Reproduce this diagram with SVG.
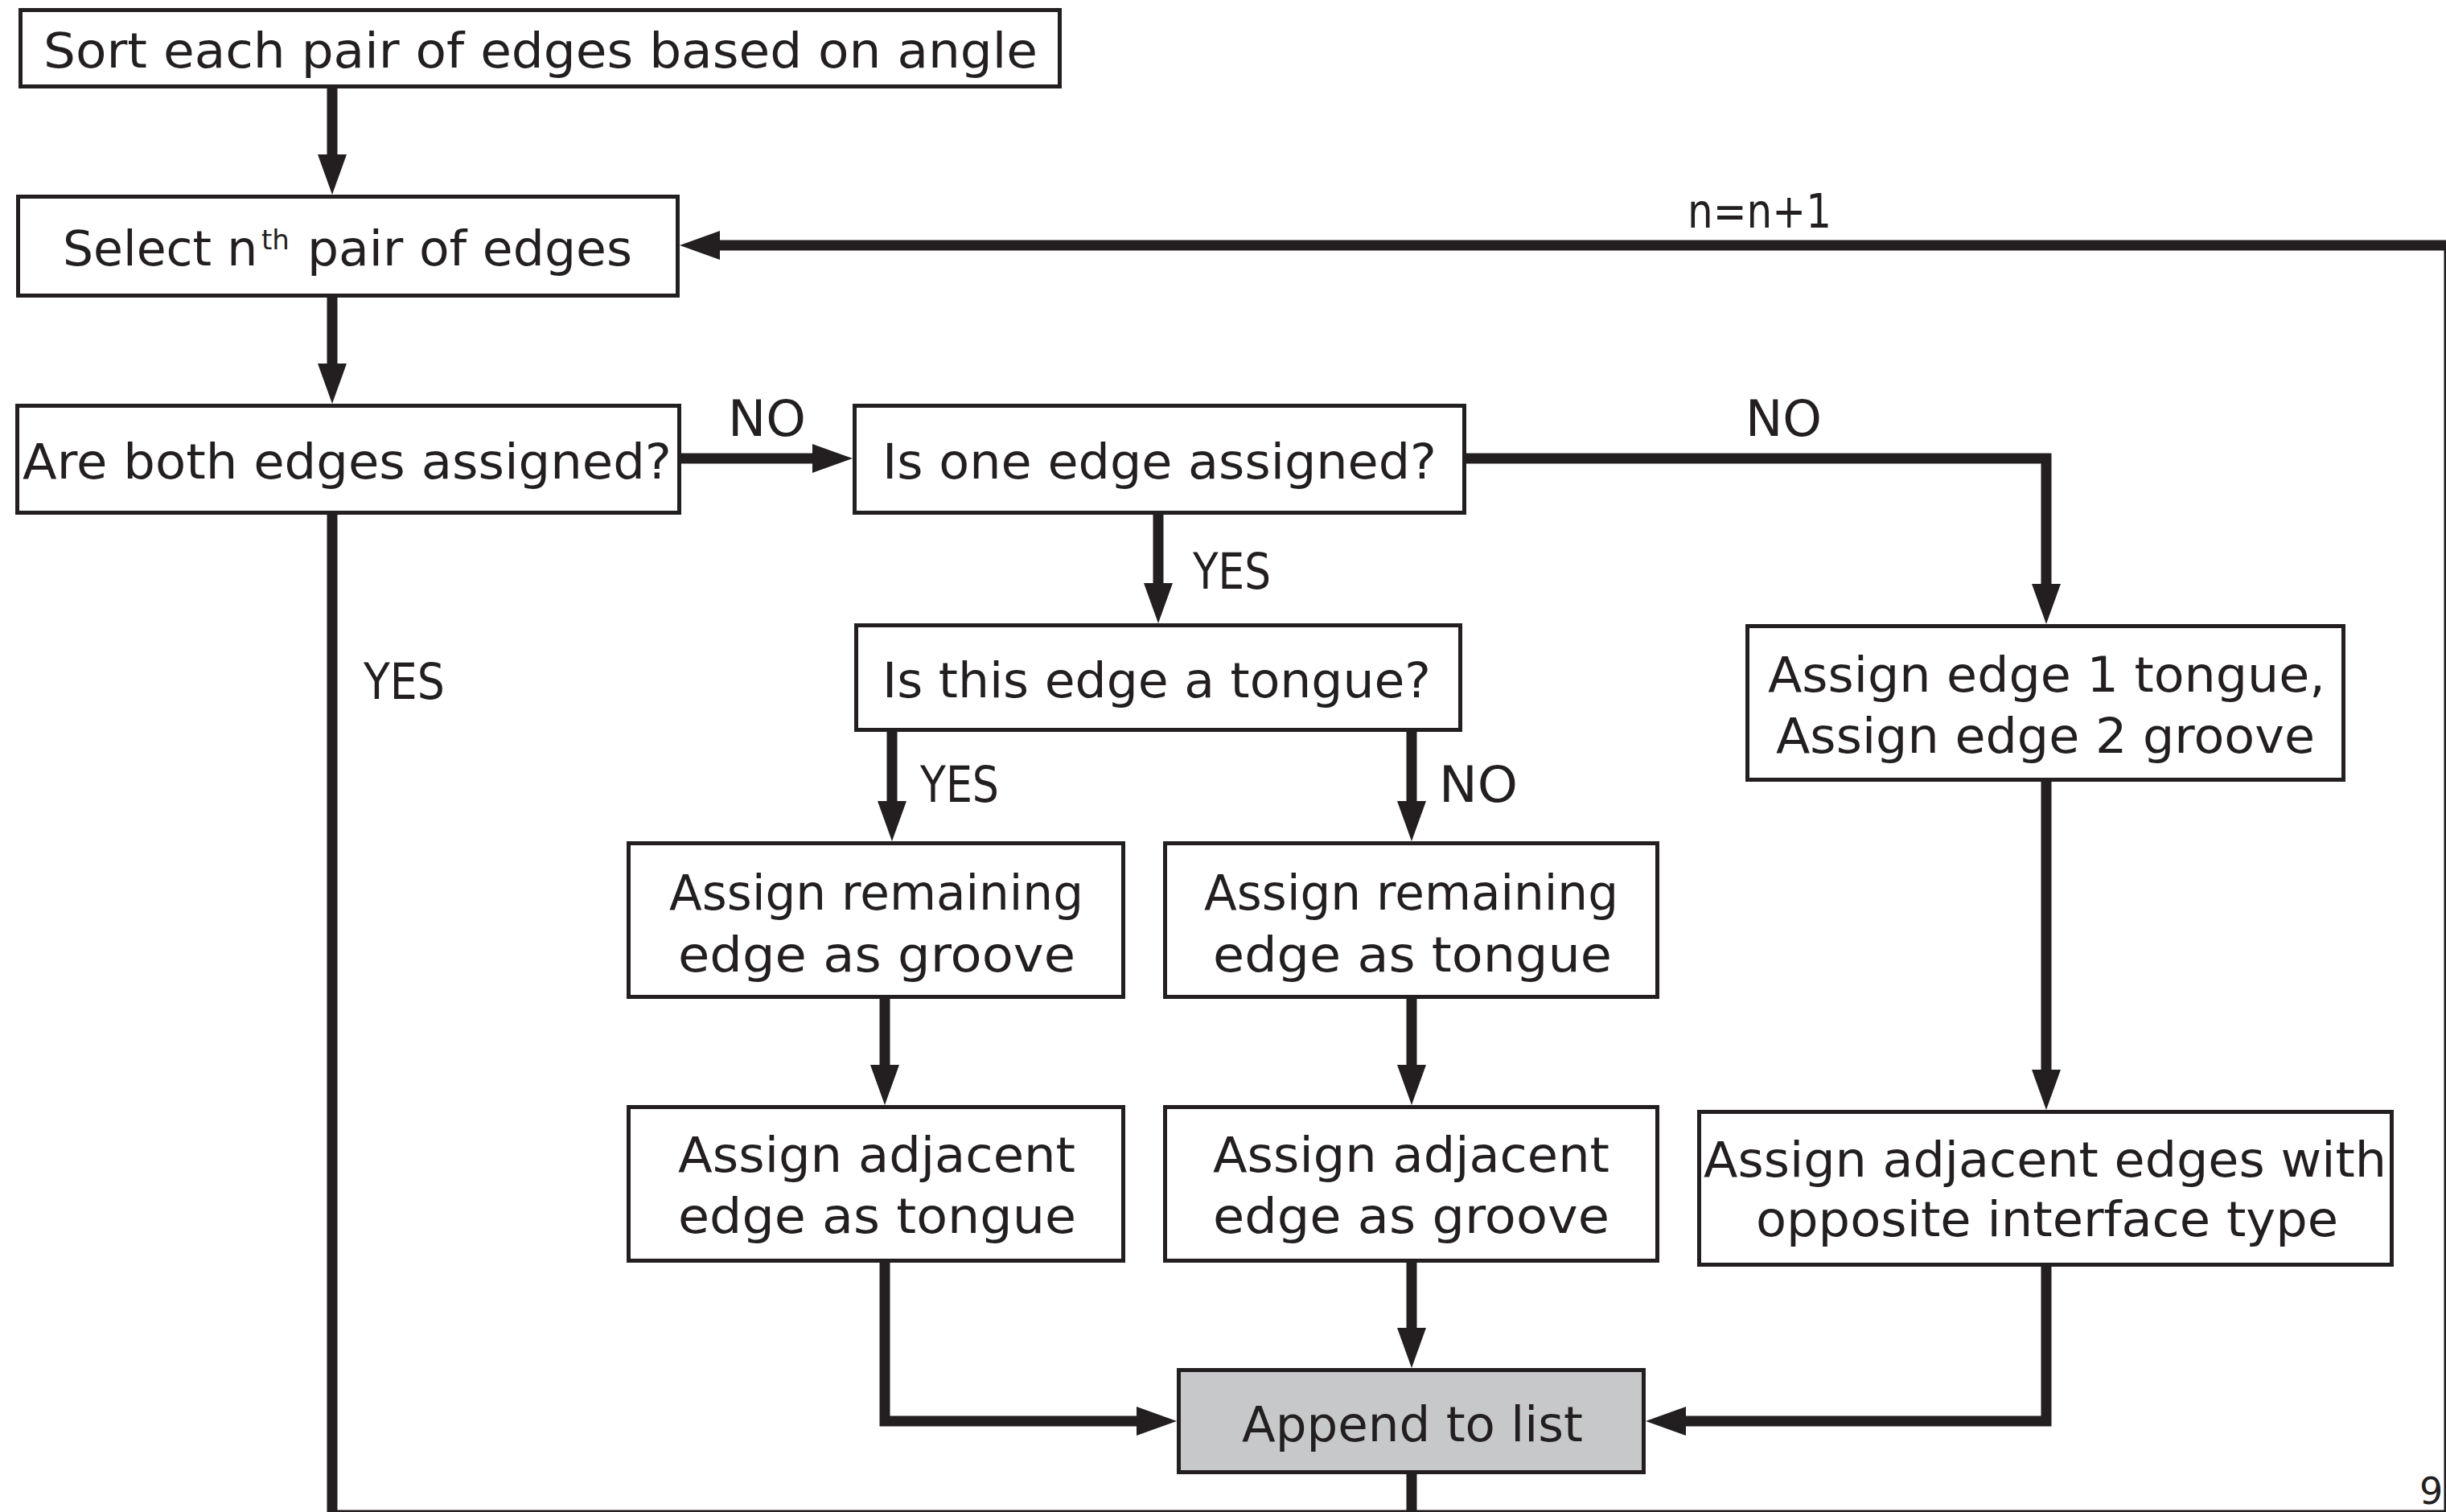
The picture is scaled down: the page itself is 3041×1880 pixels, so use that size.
<svg xmlns="http://www.w3.org/2000/svg" width="3041" height="1880" viewBox="0 0 3041 1880">
  <style>
    .box { fill: #ffffff; stroke: #231f20; stroke-width: 5; }
    .box.shade { fill: #c7c8ca; }
    .lbl { font-family: "DejaVu Sans", "Liberation Sans", sans-serif; font-size: 60px; fill: #231f20; }
    .tag { font-family: "DejaVu Sans", "Liberation Sans", sans-serif; font-size: 62px; fill: #231f20; }
    .sup { font-size: 34px; }
    .wire { fill: none; stroke: #231f20; stroke-width: 13; stroke-linejoin: miter; stroke-linecap: butt; }
    .wire.arrow { marker-end: url(#head); }
  </style>
  <defs>
    <marker id="head" markerUnits="userSpaceOnUse" viewBox="0 0 50 36" markerWidth="50" markerHeight="36" refX="10" refY="18" orient="auto">
      <path d="M0,0 L50,18 L0,36 Z" fill="#231f20"/>
    </marker>
  </defs>

  <rect width="3041" height="1880" fill="#ffffff"/>

  <!-- page number, partly cut by the frame -->
  <text x="3008" y="1870" class="lbl" style="font-size:46px">96</text>

  <!-- nodes -->
  <g id="sort-pairs">
    <rect class="box" x="25.5" y="12.5" width="1292" height="95"/>
    <text class="lbl" x="54" y="84" textLength="1236" lengthAdjust="spacingAndGlyphs">Sort each pair of edges based on angle</text>
  </g>
  <g id="select-pair">
    <rect class="box" x="22.5" y="244.5" width="820" height="123"/>
    <text class="lbl" x="78" y="330">Select n<tspan class="sup" x="325" dy="-20">th</tspan><tspan x="382" dy="20" textLength="404" lengthAdjust="spacingAndGlyphs">pair of edges</tspan></text>
  </g>
  <g id="both-assigned">
    <rect class="box" x="21.5" y="504.5" width="823" height="133"/>
    <text class="lbl" x="28" y="595" textLength="807" lengthAdjust="spacingAndGlyphs">Are both edges assigned?</text>
  </g>
  <g id="one-assigned">
    <rect class="box" x="1062.5" y="504.5" width="758" height="133"/>
    <text class="lbl" x="1097" y="595" textLength="689" lengthAdjust="spacingAndGlyphs">Is one edge assigned?</text>
  </g>
  <g id="is-tongue">
    <rect class="box" x="1064.5" y="777.5" width="751" height="130"/>
    <text class="lbl" x="1097" y="867" textLength="682" lengthAdjust="spacingAndGlyphs">Is this edge a tongue?</text>
  </g>
  <g id="assign-both">
    <rect class="box" x="2172.5" y="778.5" width="741" height="191"/>
    <text class="lbl" x="2198" y="860" textLength="693" lengthAdjust="spacingAndGlyphs">Assign edge 1 tongue,</text>
    <text class="lbl" x="2208" y="936" textLength="670" lengthAdjust="spacingAndGlyphs">Assign edge 2 groove</text>
  </g>
  <g id="remaining-groove">
    <rect class="box" x="781.5" y="1048.5" width="615" height="191"/>
    <text class="lbl" x="832" y="1131" textLength="515" lengthAdjust="spacingAndGlyphs">Assign remaining</text>
    <text class="lbl" x="843" y="1208" textLength="494" lengthAdjust="spacingAndGlyphs">edge as groove</text>
  </g>
  <g id="remaining-tongue">
    <rect class="box" x="1448.5" y="1048.5" width="612" height="191"/>
    <text class="lbl" x="1497" y="1131" textLength="515" lengthAdjust="spacingAndGlyphs">Assign remaining</text>
    <text class="lbl" x="1508" y="1208" textLength="496" lengthAdjust="spacingAndGlyphs">edge as tongue</text>
  </g>
  <g id="adjacent-tongue">
    <rect class="box" x="781.5" y="1376.5" width="615" height="191"/>
    <text class="lbl" x="843" y="1457" textLength="494" lengthAdjust="spacingAndGlyphs">Assign adjacent</text>
    <text class="lbl" x="843" y="1533" textLength="495" lengthAdjust="spacingAndGlyphs">edge as tongue</text>
  </g>
  <g id="adjacent-groove">
    <rect class="box" x="1448.5" y="1376.5" width="612" height="191"/>
    <text class="lbl" x="1508" y="1457" textLength="493" lengthAdjust="spacingAndGlyphs">Assign adjacent</text>
    <text class="lbl" x="1508" y="1533" textLength="493" lengthAdjust="spacingAndGlyphs">edge as groove</text>
  </g>
  <g id="adjacent-opposite">
    <rect class="box" x="2112.5" y="1382.5" width="861" height="190"/>
    <text class="lbl" x="2118" y="1463" textLength="849" lengthAdjust="spacingAndGlyphs">Assign adjacent edges with</text>
    <text class="lbl" x="2183" y="1537" textLength="724" lengthAdjust="spacingAndGlyphs">opposite interface type</text>
  </g>
  <g id="append-list">
    <rect class="box shade" x="1465.5" y="1703.5" width="578" height="127"/>
    <text class="lbl" x="1544" y="1792" textLength="424" lengthAdjust="spacingAndGlyphs">Append to list</text>
  </g>

  <!-- connectors -->
  <g id="connectors">
    <path class="wire arrow" d="M413,110 V202"/>
    <path class="wire arrow" d="M413,370 V462"/>
    <path class="wire arrow" d="M847,570 H1020"/>
    <path class="wire arrow" d="M1823,570 H2544 V736"/>
    <path class="wire arrow" d="M1440,640 V735"/>
    <path class="wire arrow" d="M1109,910 V1006"/>
    <path class="wire arrow" d="M1755,910 V1006"/>
    <path class="wire arrow" d="M1100,1242 V1334"/>
    <path class="wire arrow" d="M1755,1242 V1334"/>
    <path class="wire arrow" d="M2544,972 V1340"/>
    <path class="wire arrow" d="M1100,1570 V1767 H1423"/>
    <path class="wire arrow" d="M1755,1570 V1661"/>
    <path class="wire arrow" d="M2544,1575 V1767 H2086"/>
    <!-- loop back: both-assigned YES and append output return to select -->
    <path class="wire" d="M1755,1833 V1884"/>
    <path class="wire arrow" d="M413,638 V1884 H3045 V305 H885"/>

    <text class="tag" x="905" y="542" textLength="97" lengthAdjust="spacingAndGlyphs">NO</text>
    <text class="tag" x="2170" y="542" textLength="95" lengthAdjust="spacingAndGlyphs">NO</text>
    <text class="tag" x="1483" y="732" textLength="97" lengthAdjust="spacingAndGlyphs">YES</text>
    <text class="tag" x="452" y="869" textLength="101" lengthAdjust="spacingAndGlyphs">YES</text>
    <text class="tag" x="1144" y="997" textLength="98" lengthAdjust="spacingAndGlyphs">YES</text>
    <text class="tag" x="1789" y="997" textLength="98" lengthAdjust="spacingAndGlyphs">NO</text>
    <text class="tag" x="2098" y="283" style="font-size:58px" textLength="179" lengthAdjust="spacingAndGlyphs">n=n+1</text>
  </g>
</svg>
